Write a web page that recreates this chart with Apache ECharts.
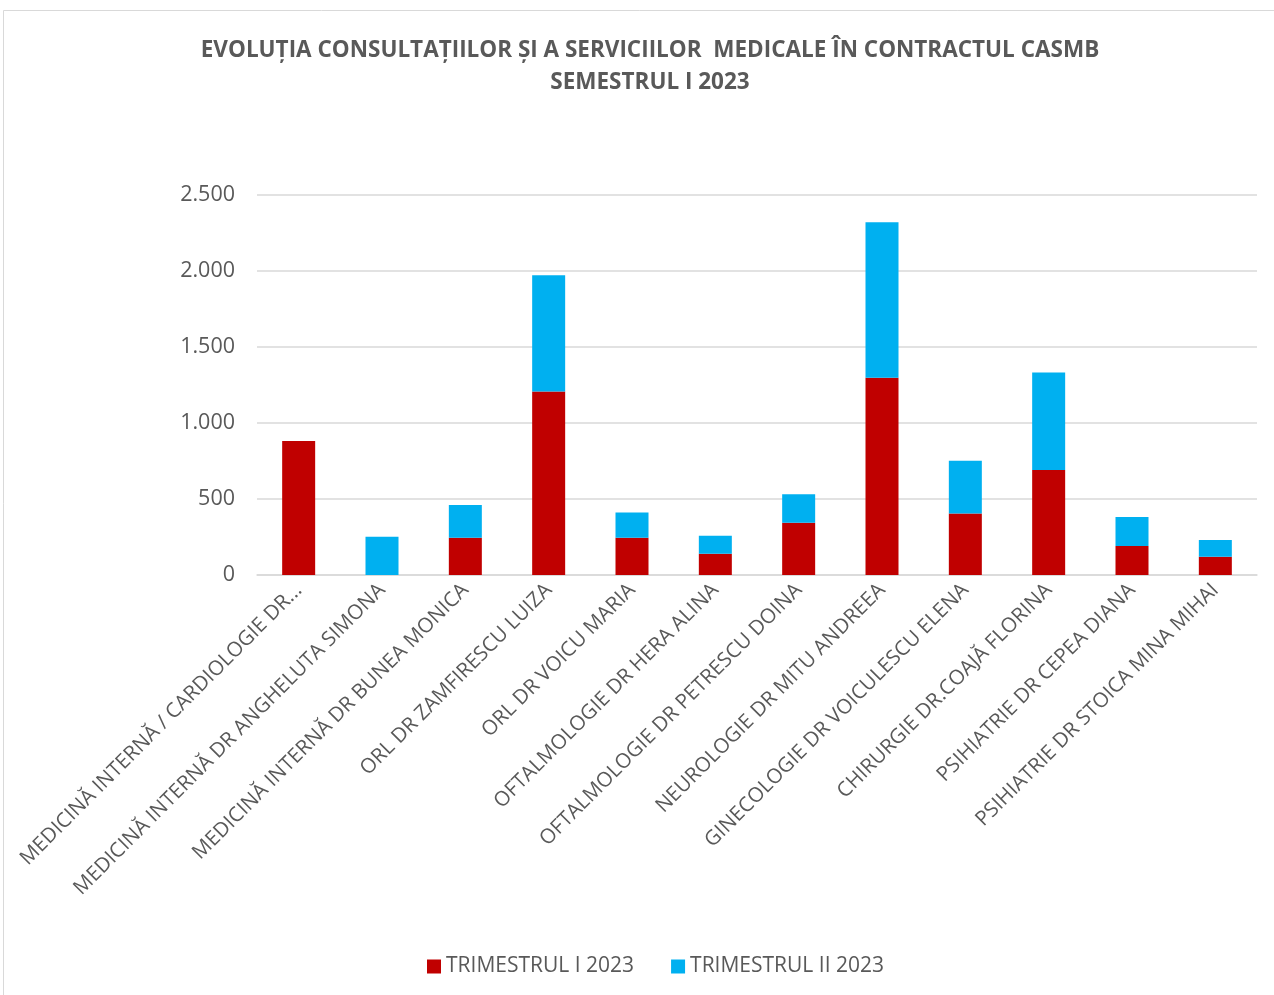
<!DOCTYPE html>
<html><head><meta charset="utf-8">
<script src="https://cdn.jsdelivr.net/npm/echarts@6/dist/echarts.min.js"></script>
<style>html,body{margin:0;padding:0;background:#fff}#c{width:1274px;height:995px}</style>
</head><body><div id="c"></div>
<script>
const categories = [
  "MEDICINĂ INTERNĂ / CARDIOLOGIE DR...",
  "MEDICINĂ INTERNĂ DR ANGHELUTA SIMONA",
  "MEDICINĂ INTERNĂ DR BUNEA MONICA",
  "ORL DR ZAMFIRESCU LUIZA",
  "ORL DR VOICU MARIA",
  "OFTALMOLOGIE DR HERA ALINA",
  "OFTALMOLOGIE DR PETRESCU DOINA",
  "NEUROLOGIE DR MITU ANDREEA",
  "GINECOLOGIE DR VOICULESCU ELENA",
  "CHIRURGIE DR.COAJĂ FLORINA",
  "PSIHIATRIE DR CEPEA DIANA",
  "PSIHIATRIE DR STOICA MINA MIHAI"
];
const trim1 = [881, 0, 245, 1208, 245, 140, 344, 1297, 405, 690, 191, 120];
const trim2 = [0, 252, 215, 764, 167, 118, 188, 1024, 346, 643, 190, 110];
const seriesNames = ["TRIMESTRUL I 2023", "TRIMESTRUL II 2023"];
const titleLines = ["EVOLUȚIA CONSULTAȚIILOR ȘI A SERVICIILOR  MEDICALE ÎN CONTRACTUL CASMB", "SEMESTRUL I 2023"];

const chart = echarts.init(document.getElementById('c'));
const font = "'Open Sans', 'Noto Sans', sans-serif";
chart.setOption({
  animation: false,
  backgroundColor: '#fff',
  graphic: [{type:'rect', shape:{x:3.5,y:10.5,width:1290,height:1000}, style:{fill:'none', stroke:'#d9d9d9', lineWidth:1}}],
  title: {
    text: titleLines.join('\n'),
    left: 645, top: 30, textAlign: 'center',
    textStyle: {fontFamily: font, fontWeight: 'bold', fontSize: 22.5, color: '#595959', lineHeight: 32}
  },
  legend: {
    bottom: 13, left: 422, itemWidth: 14, itemHeight: 14, itemGap: 37, icon: 'rect',
    textStyle: {fontFamily: font, fontSize: 21, color: '#595959'}
  },
  grid: {left: 257, right: 17, top: 195, bottom: 420, containLabel: false},
  xAxis: {
    type: 'category', data: categories,
    axisLine: {lineStyle: {color: '#d9d9d9', width: 1.5}},
    axisTick: {show: false},
    axisLabel: {rotate: 45, interval: 0, fontFamily: font, fontSize: 20.5, color: '#595959', margin: 12}
  },
  yAxis: {
    type: 'value', min: 0, max: 2500, interval: 500,
    axisLine: {show: false}, axisTick: {show: false},
    splitLine: {lineStyle: {color: '#d9d9d9', width: 1.5}},
    axisLabel: {fontFamily: font, fontSize: 21.5, color: '#595959', margin: 22,
      formatter: v => v.toString().replace(/\B(?=(\d{3})+(?!\d))/g, '.')}
  },
  series: [
    {name: seriesNames[0], type: 'bar', stack: 's', data: trim1, barWidth: 33, itemStyle: {color: '#C00000'}},
    {name: seriesNames[1], type: 'bar', stack: 's', data: trim2, barWidth: 33, itemStyle: {color: '#00B0F0'}}
  ]
});
</script></body></html>
